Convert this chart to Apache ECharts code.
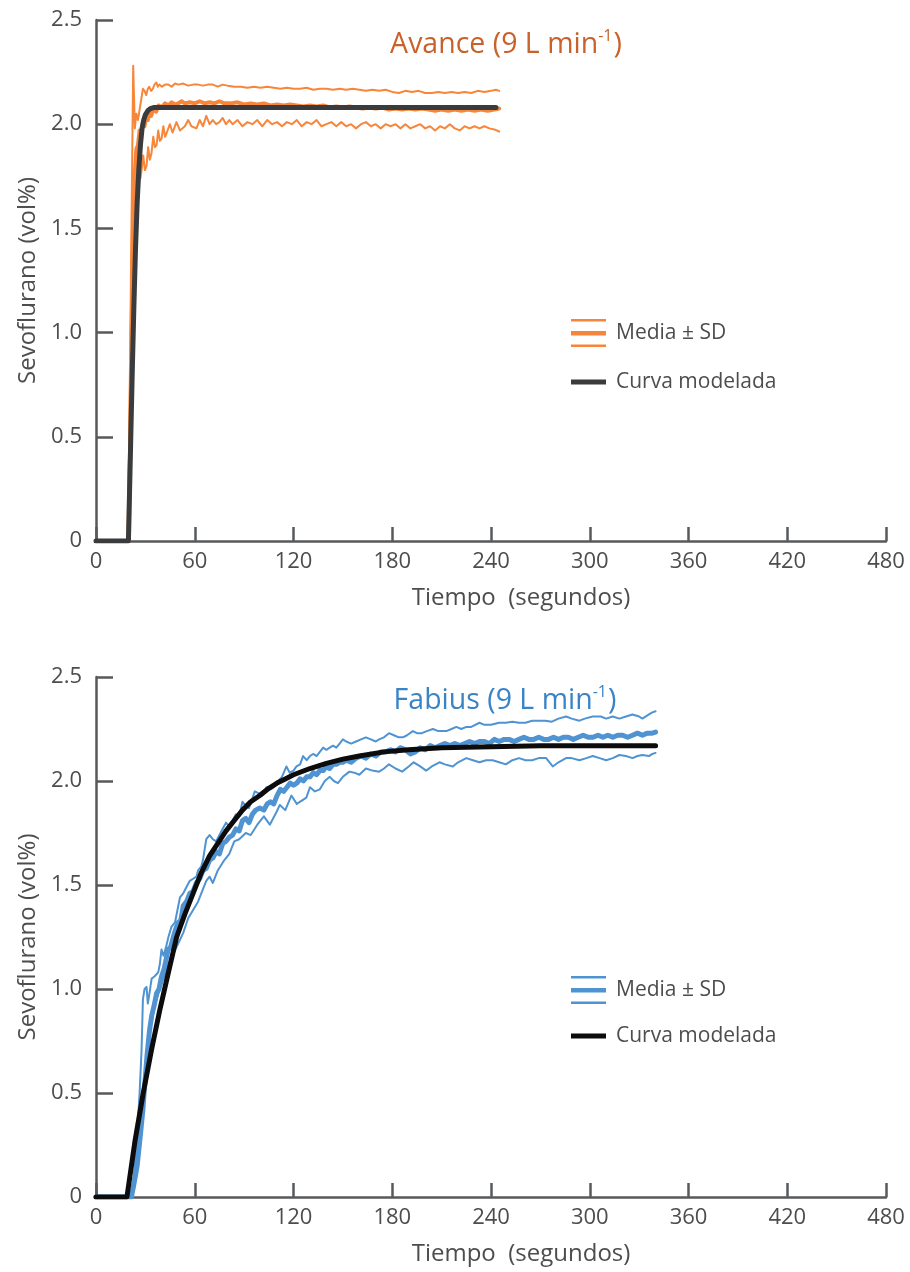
<!DOCTYPE html>
<html><head><meta charset="utf-8">
<script src="https://cdn.jsdelivr.net/npm/echarts@6/dist/echarts.min.js"></script>
<style>html,body{margin:0;padding:0;background:#fff}#c{width:910px;height:1272px}</style>
</head><body><div id="c"></div>
<script>
const xTickLabels = ['0','60','120','180','240','300','360','420','480'];
const yTickLabels = ['0','0.5','1.0','1.5','2.0','2.5'];

// ---- Avance (top panel): [seconds, vol%]
const avanceUpper = [[0,0],[19.5,0],[22.6,2.28],[23.6,1.98],[24.5,2.05],[25.5,2.02],[26.5,2.07],[27.5,2.12],[28.5,2.17],[29.5,2.16],[30.5,2.14],[31.5,2.17],[32.3,2.18],[33.5,2.16],[34.5,2.17],[35.5,2.19],[36.7,2.20],[37.5,2.18],[38.5,2.19],[40,2.18],[42,2.19],[44,2.19],[46,2.18],[48,2.195],[50,2.19],[53,2.195],[56,2.185],[59,2.19],[62,2.19],[65,2.185],[68,2.19],[71,2.19],[74,2.18],[77,2.19],[80,2.185],[84,2.18],[88,2.18],[92,2.175],[96,2.18],[100,2.175],[104,2.18],[108,2.175],[112,2.17],[116,2.175],[120,2.17],[124,2.17],[128,2.175],[132,2.165],[136,2.17],[140,2.17],[144,2.165],[148,2.17],[152,2.165],[156,2.17],[160,2.165],[164,2.16],[168,2.165],[172,2.16],[176,2.165],[180,2.155],[184,2.15],[188,2.16],[192,2.155],[196,2.16],[200,2.15],[204,2.15],[208,2.155],[212,2.15],[216,2.155],[220,2.15],[224,2.155],[228,2.15],[232,2.16],[236,2.155],[240,2.16],[243,2.165],[245,2.16]];
const avanceMean = [[0,0],[20,0],[21.5,0.9],[22.5,1.5],[23.5,1.75],[24.5,1.88],[25.5,1.9],[26.5,1.97],[27.5,1.95],[28.5,2.01],[29.5,1.99],[30.5,2.04],[31.5,2.02],[32.5,2.06],[33.5,2.04],[35,2.08],[36.5,2.06],[38,2.09],[40,2.08],[42,2.1],[44,2.09],[46,2.105],[48,2.095],[50,2.1],[52,2.11],[54,2.1],[57,2.105],[60,2.1],[63,2.11],[66,2.1],[69,2.105],[72,2.1],[75,2.11],[78,2.1],[82,2.1],[86,2.105],[90,2.095],[94,2.1],[98,2.095],[102,2.1],[106,2.09],[110,2.095],[114,2.09],[118,2.095],[122,2.09],[126,2.085],[130,2.09],[134,2.085],[138,2.09],[142,2.08],[146,2.085],[150,2.08],[154,2.085],[158,2.08],[162,2.075],[166,2.08],[170,2.075],[174,2.08],[178,2.07],[182,2.075],[186,2.07],[190,2.075],[194,2.07],[198,2.075],[202,2.07],[206,2.065],[210,2.07],[214,2.065],[218,2.07],[222,2.065],[226,2.07],[230,2.065],[234,2.07],[238,2.065],[242,2.07],[245,2.075]];
const avanceLower = [[0,0],[19,0],[21,0.8],[23,1.45],[24.5,1.70],[26,1.78],[27,1.74],[27.7,1.78],[28.7,1.85],[29.7,1.78],[30.7,1.80],[31.7,1.89],[32.7,1.83],[33.7,1.86],[34.8,1.94],[35.8,1.89],[36.8,1.90],[37.8,1.97],[38.8,1.92],[39.8,1.93],[40.9,1.99],[42,1.94],[43,1.96],[44.9,2.00],[46.5,1.96],[48.9,2.01],[51,1.97],[54,1.99],[56,2.02],[58,1.99],[61,1.98],[63,2.02],[65,1.99],[67,2.04],[69,2.0],[71,2.02],[73,2.0],[75,2.01],[77,2.03],[79,2.0],[81,2.02],[83,2.0],[86,2.02],[89,1.99],[92,2.01],[95,2.0],[98,2.02],[101,1.99],[104,2.02],[107,2.0],[110,2.01],[113,1.99],[116,2.01],[119,2.0],[122,2.02],[125,1.99],[128,2.01],[131,2.0],[134,2.02],[137,1.99],[140,2.0],[143,2.01],[146,1.99],[149,2.01],[152,1.99],[155,2.0],[158,1.98],[161,2.0],[164,2.01],[167,1.99],[170,2.0],[173,1.98],[176,2.0],[179,1.99],[182,2.0],[185,1.98],[188,2.0],[191,1.98],[194,1.99],[197,2.0],[200,1.98],[203,1.99],[206,1.97],[209,1.99],[212,1.98],[215,2.0],[218,1.98],[221,1.97],[224,1.99],[227,1.98],[230,1.99],[233,1.98],[236,1.99],[239,1.98],[242,1.975],[245,1.965]];
const avanceModel = [[0,0],[19.7,0],[21,0.45],[22,0.8],[23,1.12],[24,1.4],[25,1.62],[26,1.78],[27,1.9],[28,1.98],[29,2.02],[30,2.045],[31.5,2.065],[33,2.075],[35,2.08],[243,2.08]];

// ---- Fabius (bottom panel): [seconds, vol%]
const fabiusUpper = [[0,0],[21,0],[23,0.1],[25,0.3],[26.5,0.5],[27.7,0.71],[28.5,0.95],[29.5,1.0],[30.7,1.01],[31.5,0.93],[32.5,0.98],[33.8,1.05],[35.5,1.06],[37.8,1.08],[38.8,1.12],[39.8,1.19],[41,1.16],[42.5,1.2],[44,1.25],[45.9,1.30],[48,1.32],[49.5,1.38],[51,1.44],[53,1.46],[55,1.49],[57,1.52],[59,1.53],[61,1.54],[62,1.57],[64,1.59],[65,1.62],[66,1.67],[67,1.72],[69,1.74],[71,1.72],[73,1.71],[75,1.74],[77,1.77],[79,1.80],[81,1.78],[83,1.81],[85,1.84],[87,1.83],[89,1.90],[91,1.88],[93,1.87],[96.5,1.95],[99,1.94],[101,1.93],[103.6,1.97],[106,1.96],[108,1.97],[110.7,2.0],[113,2.02],[115.7,2.07],[117.7,2.04],[120,2.05],[121.8,2.07],[124,2.08],[125.8,2.12],[128,2.10],[130,2.12],[131.9,2.13],[134,2.12],[136,2.14],[138,2.16],[140,2.15],[142,2.16],[144,2.17],[146,2.16],[148,2.18],[150,2.20],[152,2.19],[155,2.18],[158,2.19],[161,2.2],[164,2.21],[167,2.2],[170,2.19],[172,2.2],[175,2.21],[178,2.23],[181,2.22],[184,2.21],[186.5,2.21],[189,2.22],[192.5,2.24],[195,2.23],[198,2.23],[201,2.24],[204.7,2.25],[208,2.24],[212.8,2.24],[216,2.25],[218.9,2.26],[222,2.25],[225,2.26],[228,2.26],[233,2.28],[236,2.27],[240,2.27],[245,2.28],[249,2.28],[253,2.285],[257,2.28],[261,2.28],[265,2.29],[269.4,2.29],[273,2.29],[277,2.285],[281,2.30],[285.6,2.31],[289,2.3],[293.7,2.29],[297,2.30],[301.8,2.31],[306.7,2.31],[310,2.30],[314,2.31],[318,2.30],[322,2.31],[326,2.32],[330,2.31],[332,2.30],[336,2.32],[338,2.33],[340,2.335]];
const fabiusMean = [[0,0],[21.5,0],[23,0.06],[25,0.15],[27,0.3],[28.5,0.42],[29.7,0.55],[31,0.68],[32.5,0.8],[33.8,0.87],[35.3,0.92],[36.8,0.98],[38.3,1.0],[39.8,1.06],[41.5,1.1],[43.8,1.19],[45.3,1.2],[47,1.25],[48.5,1.29],[50,1.32],[51.5,1.33],[53,1.40],[55,1.42],[57,1.46],[59,1.47],[61,1.51],[63,1.53],[65,1.57],[67,1.58],[69,1.62],[71,1.63],[73,1.66],[75,1.65],[77,1.70],[79,1.71],[81,1.73],[83,1.74],[85,1.77],[87,1.76],[89,1.81],[91,1.82],[93,1.80],[95,1.84],[97,1.86],[99.5,1.87],[102,1.86],[104,1.89],[106,1.90],[108,1.89],[110,1.93],[112,1.96],[114,1.95],[116,1.97],[118,1.99],[120,1.98],[122,1.99],[124,2.01],[126,2.0],[128,2.02],[130,2.02],[132,2.04],[134,2.03],[136,2.05],[138,2.05],[140,2.07],[142,2.06],[144,2.08],[146,2.08],[148,2.09],[150,2.09],[152,2.1],[155,2.09],[158,2.11],[161,2.12],[164,2.11],[167,2.13],[170,2.12],[173,2.14],[176,2.14],[179,2.15],[182,2.14],[185,2.16],[188,2.15],[191,2.13],[194,2.14],[197,2.16],[200,2.15],[203,2.17],[206,2.16],[209,2.17],[212,2.18],[215,2.17],[218,2.18],[221,2.17],[224,2.18],[227,2.19],[230,2.18],[233,2.19],[236,2.19],[239,2.18],[242,2.2],[245,2.19],[248,2.2],[251,2.2],[254,2.19],[257,2.2],[260,2.21],[263,2.2],[266,2.2],[269,2.21],[272,2.2],[275,2.2],[278,2.21],[281,2.2],[284,2.21],[287,2.21],[290,2.2],[293,2.21],[296,2.22],[299,2.21],[302,2.21],[305,2.22],[308,2.21],[311,2.22],[314,2.21],[317,2.22],[320,2.22],[323,2.21],[326,2.22],[329,2.23],[332,2.22],[335,2.23],[338,2.23],[340,2.235]];
const fabiusLower = [[0,0],[21,0],[23,0.08],[26,0.22],[28,0.35],[29.5,0.55],[31,0.7],[33,0.82],[35,0.9],[38,0.98],[41,1.05],[44,1.12],[47,1.17],[50,1.22],[53,1.27],[56,1.34],[59,1.38],[62,1.42],[65,1.48],[67,1.52],[69,1.54],[71,1.51],[74,1.57],[78,1.62],[81,1.65],[84,1.71],[87,1.72],[91,1.75],[94,1.74],[98,1.79],[102,1.83],[105.6,1.79],[109.6,1.85],[111.7,1.885],[115,1.86],[118.7,1.93],[122,1.89],[127.8,1.92],[130,1.97],[133,1.95],[136,1.96],[139,2.0],[142,2.02],[144.5,2.0],[147,1.99],[150,2.02],[154,2.045],[157,2.04],[160,2.03],[164,2.06],[168,2.05],[172,2.045],[175,2.06],[178,2.08],[182,2.06],[186,2.045],[190,2.07],[193,2.09],[197,2.07],[200.6,2.05],[204,2.07],[208.7,2.09],[212,2.08],[216.8,2.07],[220,2.09],[225,2.11],[229,2.10],[233,2.09],[237,2.10],[241,2.10],[245,2.09],[249,2.08],[253,2.10],[257,2.11],[261,2.10],[265,2.10],[269,2.11],[273.5,2.11],[277.5,2.07],[281,2.09],[285.6,2.11],[289,2.11],[293.7,2.10],[298,2.11],[301.8,2.12],[306,2.11],[310,2.10],[314,2.11],[318,2.125],[322,2.12],[326,2.11],[329,2.12],[332,2.125],[336,2.12],[338,2.13],[340,2.135]];
const fabiusModel = [[0,0],[18.8,0],[23.7,0.27],[28.7,0.5],[33.8,0.71],[38.8,0.9],[44,1.08],[49,1.25],[54,1.36],[59,1.46],[64,1.56],[69,1.64],[74,1.70],[79,1.76],[84,1.81],[89,1.86],[94,1.90],[99.5,1.93],[105,1.965],[110,1.99],[115,2.01],[120,2.03],[130,2.06],[140,2.085],[150,2.105],[160,2.12],[175,2.14],[190,2.15],[210,2.16],[240,2.165],[270,2.17],[300,2.17],[340,2.17]];

const FONT = "'Open Sans', 'Noto Sans', sans-serif";
const AXIS = '#58595b';
const TXT = '#4d4d4f';
const ORANGE = '#f7863b', ORANGE_T = '#c9612b';
const BLUE = '#4f93d2', BLUE_T = '#3a84c6';
const DARK = '#3a3b3c', BLACK = '#0c0c0c';

function xAx(gi) {
  return {
    type: 'value', gridIndex: gi, min: 0, max: 480, interval: 60,
    name: 'Tiempo  (segundos)', nameLocation: 'middle', nameGap: 45,
    nameTextStyle: { fontSize: 24, color: TXT, fontFamily: FONT, padding: [0, 0, 0, 60] },
    axisLine: { show: true, onZero: false, lineStyle: { color: AXIS, width: 2.5 } },
    axisTick: { show: true, inside: true, length: 14, lineStyle: { color: AXIS, width: 2.5 } },
    axisLabel: { fontSize: 22, color: TXT, fontFamily: FONT, margin: 10,
      formatter: v => xTickLabels[Math.round(v / 60)] },
    splitLine: { show: false }
  };
}
function yAx(gi) {
  return {
    type: 'value', gridIndex: gi, min: 0, max: 2.5, interval: 0.5,
    name: 'Sevoflurano (vol%)', nameLocation: 'middle', nameGap: 56,
    nameTextStyle: { fontSize: 24, color: TXT, fontFamily: FONT },
    axisLine: { show: true, lineStyle: { color: AXIS, width: 2.5 } },
    axisTick: { show: true, inside: true, length: 17, lineStyle: { color: AXIS, width: 2.5 } },
    axisLabel: { fontSize: 22, color: TXT, fontFamily: FONT, margin: 14,
      formatter: v => yTickLabels[Math.round(v / 0.5)] },
    splitLine: { show: false }
  };
}
function line(name, data, color, width, gi) {
  return {
    type: 'line', name, data, xAxisIndex: gi, yAxisIndex: gi,
    showSymbol: false, symbol: 'none', smooth: false,
    lineStyle: { color, width, cap: 'round', join: 'round' },
    itemStyle: { color }, emphasis: { disabled: true }, silent: true
  };
}

const ICON_SD = 'path://M0,0H35V2.5H0Z M0,12H35V16.5H0Z M0,25.5H35V28H0Z';
const ICON_MODEL = 'path://M0,0H35V0.01H0Z M0,11.5H35V16.5H0Z M0,27.99H35V28H0Z';

function legend(top, gap, sdColor, modelColor) {
  return {
    orient: 'vertical', left: 566, top, itemWidth: 35, itemHeight: 28, itemGap: gap,
    selectedMode: false,
    textStyle: { fontSize: 21, color: TXT, fontFamily: FONT, padding: [0, 0, 0, 5] },
    data: [
      { name: 'Media ± SD', icon: ICON_SD, itemStyle: { color: sdColor, borderWidth: 0 } },
      { name: 'Curva modelada', icon: ICON_MODEL, itemStyle: { color: modelColor, borderWidth: 0 } }
    ]
  };
}

function title(text, left, top, color) {
  return {
    text: '{a|' + text + '}{s|-1}{a|)}', left, top, textAlign: 'center',
    textStyle: { rich: {
      a: { fontSize: 28.5, fontWeight: 'normal', color, fontFamily: FONT, lineHeight: 33 },
      s: { fontSize: 16, fontWeight: 'normal', color, fontFamily: FONT, verticalAlign: 'top', lineHeight: 33, padding: [0, 1, 0, 0] }
    } }
  };
}

const chart = echarts.init(document.getElementById('c'), null, { renderer: 'canvas' });
chart.setOption({
  animation: false,
  backgroundColor: '#ffffff',
  title: [
    title('Avance (9 L min', 501, 23, ORANGE_T),
    title('Fabius (9 L min', 500, 679, BLUE_T)
  ],
  legend: [legend(314, 21, ORANGE, DARK), legend(971, 18, BLUE, BLACK)],
  grid: [
    { left: 96, right: 24, top: 20, height: 521, containLabel: false },
    { left: 96, right: 24, top: 677, height: 520, containLabel: false }
  ],
  xAxis: [xAx(0), xAx(1)],
  yAxis: [yAx(0), yAx(1)],
  series: [
    line('Avance +SD', avanceUpper, ORANGE, 2, 0),
    line('Avance -SD', avanceLower, ORANGE, 2, 0),
    line('Media ± SD', avanceMean, ORANGE, 4, 0),
    line('Curva modelada', avanceModel, DARK, 5, 0),
    line('Fabius +SD', fabiusUpper, BLUE, 2, 1),
    line('Fabius -SD', fabiusLower, BLUE, 2, 1),
    line('Media ± SD', fabiusMean, BLUE, 5, 1),
    line('Curva modelada', fabiusModel, BLACK, 5, 1)
  ]
});
</script></body></html>
